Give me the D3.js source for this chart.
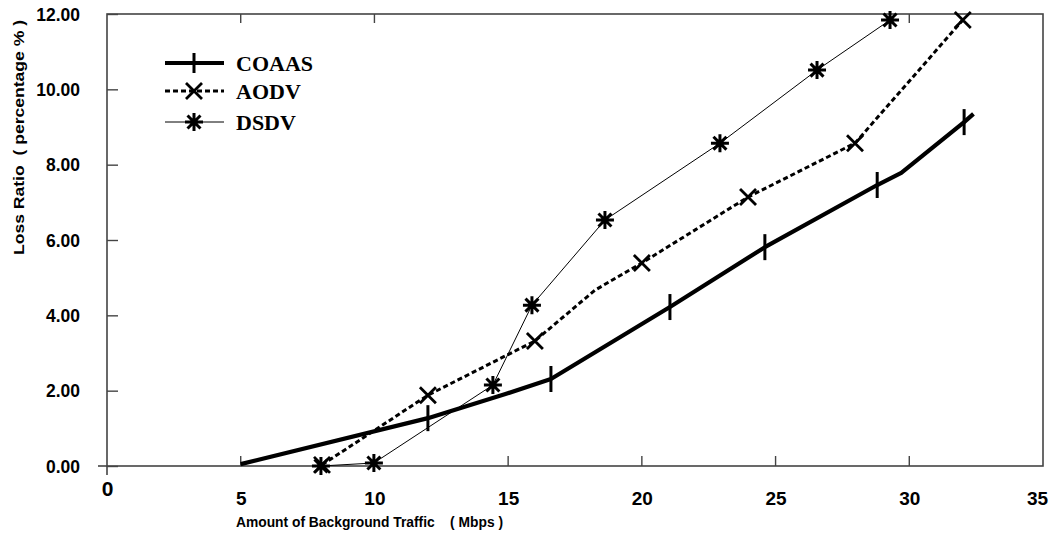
<!DOCTYPE html>
<html>
<head>
<meta charset="utf-8">
<script src="https://cdn.jsdelivr.net/npm/d3@7.9.0/dist/d3.min.js"></script>
<style>
  body { margin: 0; background: #fff; }
  svg { display: block; }
  text { font-family: "Liberation Sans", Arial, sans-serif; font-weight: bold; fill: #000; }
</style>
</head>
<body>
<svg id="chart" width="1052" height="533"></svg>
<script>
// Loss ratio vs background traffic
const xTickLabels = [0, 5, 10, 15, 20, 25, 30, 35];
const yTickLabels = [0, 2, 4, 6, 8, 10, 12];
const bottomTicks = [5, 15, 20, 25, 30];
const topTicks = [5, 10, 30];

const coaasX = [5, 12, 14.9, 16.6, 21.05, 24.6, 28.8, 29.7, 32.05, 32.4];
const coaasY = [0.05, 1.27, 1.91, 2.31, 4.22, 5.81, 7.46, 7.78, 9.13, 9.35];
const coaasMarks = [1, 3, 4, 5, 6, 8]; // indices that carry a marker

const aodvX = [8.04, 12.0, 16.0, 18.25, 20.0, 23.97, 27.97, 32.0];
const aodvY = [0.03, 1.88, 3.32, 4.67, 5.39, 7.14, 8.57, 11.84];
const aodvMarks = [0, 1, 2, 4, 5, 6, 7];

const dsdvX = [8.0, 9.98, 14.43, 15.89, 18.62, 22.92, 26.55, 29.28];
const dsdvY = [0, 0.08, 2.15, 4.27, 6.53, 8.57, 10.51, 11.84];
const dsdvMarks = [0, 1, 2, 3, 4, 5, 6, 7];

const seriesNames = ['COAAS', 'AODV', 'DSDV'];

const svg = d3.select('#chart');
const plotL = 107, plotR = 1043, plotT = 14, plotB = 466;

const x = d3.scaleLinear().domain([0, 35]).range([plotL, plotR]);
const y = d3.scaleLinear().domain([0, 12]).range([plotB, plotT]);

// marker shapes, drawn as paths around (0,0)
function markPath(kind, s) {
    if (kind === 'bar') return `M0,${-s}L0,${s}`;
    if (kind === 'x') return `M${-s},${-s}L${s},${s}M${-s},${s}L${s},${-s}`;
    // asterisk
    const d = s * 0.72;
    return `M0,${-s}L0,${s}M${-s},0L${s},0M${-d},${-d}L${d},${d}M${-d},${d}L${d},${-d}`;
}

const series = [
    { name: 'COAAS', xs: coaasX, ys: coaasY, marks: coaasMarks, width: 4.2, dash: null, kind: 'bar', ms: 13, mw: 3 },
    { name: 'AODV', xs: aodvX, ys: aodvY, marks: aodvMarks, width: 3, dash: '5,3', kind: 'x', ms: 8, mw: 2.8 },
    { name: 'DSDV', xs: dsdvX, ys: dsdvY, marks: dsdvMarks, width: 1, dash: null, kind: 'star', ms: 9, mw: 3 }
];

// frame
const frameColor = '#444';
svg.append('rect')
    .attr('x', plotL).attr('y', plotT)
    .attr('width', plotR - plotL).attr('height', plotB - plotT)
    .attr('fill', 'none').attr('stroke', frameColor).attr('stroke-width', 1.6);
// axis extensions beyond origin
svg.append('line').attr('x1', plotL - 9).attr('x2', plotL).attr('y1', plotB).attr('y2', plotB)
    .attr('stroke', frameColor).attr('stroke-width', 1.6);
svg.append('line').attr('x1', plotL).attr('x2', plotL).attr('y1', plotB).attr('y2', plotB + 9)
    .attr('stroke', frameColor).attr('stroke-width', 1.6);

// y axis
const yAxis = d3.axisLeft(y)
    .tickValues(yTickLabels)
    .tickFormat(d3.format('.2f'))
    .tickSizeInner(-11)
    .tickSizeOuter(0)
    .tickPadding(27);
const gy = svg.append('g').attr('transform', `translate(${plotL},0)`).call(yAxis);
gy.select('.domain').remove();
gy.selectAll('.tick line').attr('stroke', frameColor).attr('stroke-width', 1.4);
gy.selectAll('.tick text')
    .style('font-size', '17.5px')
    .style('font-family', '"Liberation Sans", Arial, sans-serif')
    .style('font-weight', 'bold')
    .attr('dy', '0.36em')
    .attr('fill', '#000');

// x axis labels
const xAxis = d3.axisBottom(x)
    .tickValues(xTickLabels)
    .tickFormat(d3.format('d'))
    .tickSize(0)
    .tickPadding(39);
const gx = svg.append('g').attr('transform', `translate(0,${plotB})`).call(xAxis);
gx.select('.domain').remove();
gx.selectAll('.tick line').remove();
gx.selectAll('.tick text')
    .style('font-size', d => d === 0 ? '21px' : '19px')
    .style('font-family', '"Liberation Sans", Arial, sans-serif')
    .style('font-weight', 'bold')
    .attr('dy', d => d === 0 ? '-0.45em' : '0')
    .attr('dx', d => d === 35 ? '-6' : '0')
    .attr('fill', '#000');

// x tick marks
svg.selectAll('.btick').data(bottomTicks).join('line')
    .attr('x1', d => x(d)).attr('x2', d => x(d))
    .attr('y1', plotB).attr('y2', plotB - 10)
    .attr('stroke', frameColor).attr('stroke-width', 1.4);
svg.selectAll('.ttick').data(topTicks).join('line')
    .attr('x1', d => x(d)).attr('x2', d => x(d))
    .attr('y1', plotT).attr('y2', plotT + 9)
    .attr('stroke', frameColor).attr('stroke-width', 1.4);

// axis titles
svg.append('text')
    .attr('x', 236).attr('y', 527)
    .attr('textLength', 267).attr('lengthAdjust', 'spacingAndGlyphs')
    .style('font-size', '15px')
    .style('white-space', 'pre')
    .text('Amount of Background Traffic    ( Mbps )');
svg.append('text')
    .attr('transform', 'translate(24,255) rotate(-90)')
    .attr('textLength', 235).attr('lengthAdjust', 'spacingAndGlyphs')
    .style('font-size', '15px')
    .style('white-space', 'pre')
    .text('Loss Ratio  ( percentage % )');

// lines and markers
series.forEach(s => {
    const pts = s.xs.map((v, i) => [v, s.ys[i]]);
    const line = d3.line().x(d => x(d[0])).y(d => y(d[1]));
    svg.append('path')
        .attr('d', line(pts))
        .attr('fill', 'none')
        .attr('stroke', '#000')
        .attr('stroke-width', s.width)
        .attr('stroke-linejoin', 'round')
        .attr('stroke-dasharray', s.dash);
    svg.selectAll(null).data(s.marks.map(i => pts[i])).join('path')
        .attr('transform', d => `translate(${x(d[0])},${y(d[1])})`)
        .attr('d', markPath(s.kind, s.ms))
        .attr('fill', 'none')
        .attr('stroke', '#000')
        .attr('stroke-width', s.mw);
});

// legend
const legendY = [63, 91, 122];
const lg = svg.append('g');
series.forEach((s, i) => {
    const ly = legendY[i];
    lg.append('line')
        .attr('x1', 165).attr('x2', 224).attr('y1', ly).attr('y2', ly)
        .attr('stroke', '#000').attr('stroke-width', s.width)
        .attr('stroke-dasharray', s.dash);
    lg.append('path')
        .attr('transform', `translate(194,${ly})`)
        .attr('d', markPath(s.kind, s.kind === 'bar' ? 10 : s.ms))
        .attr('fill', 'none').attr('stroke', '#000').attr('stroke-width', s.mw);
    lg.append('text')
        .attr('x', 236).attr('y', ly + 8)
        .style('font-family', '"Liberation Serif", "Times New Roman", serif')
        .style('font-size', '22px')
        .style('font-weight', 'bold')
        .text(seriesNames[i]);
});
</script>
</body>
</html>
